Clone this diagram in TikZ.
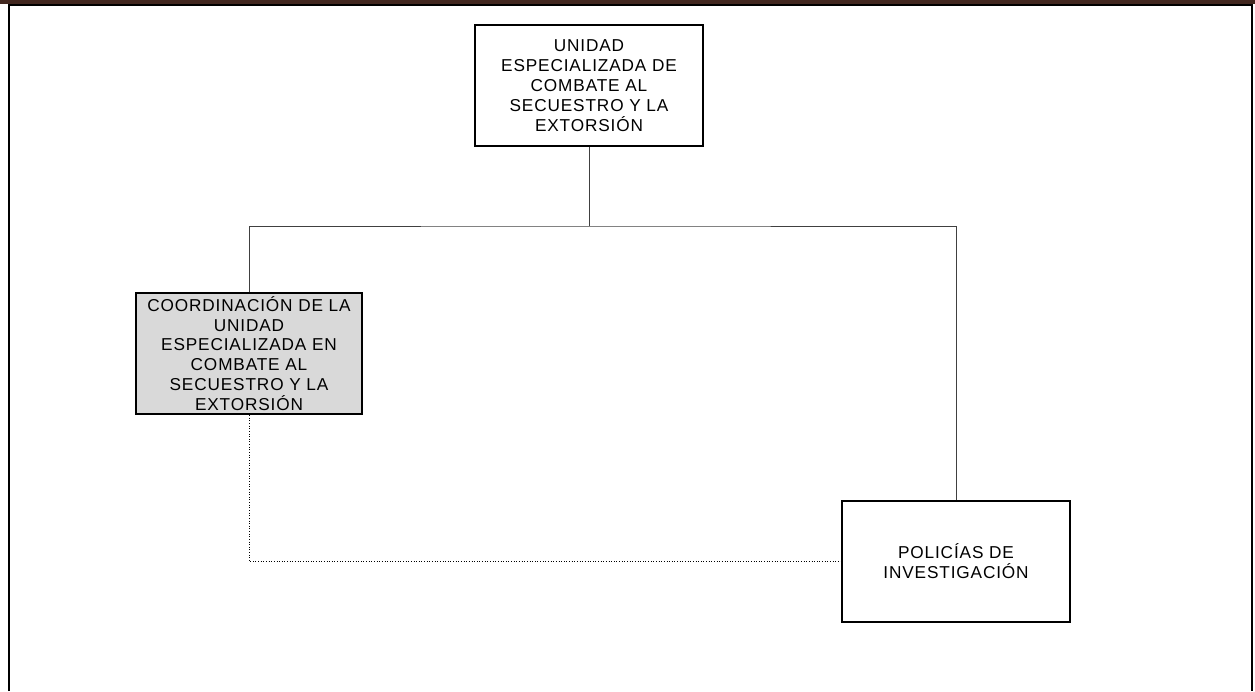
\documentclass[tikz,border=0pt]{standalone}
\usepackage{fontspec}
\usepackage{tikz}
\newfontfamily\orgfont[LetterSpace=5]{Liberation Sans}
\definecolor{barbrown}{HTML}{42271F}
\definecolor{coordgray}{HTML}{D9D9D9}

\begin{document}
\begin{tikzpicture}[x=0.02cm,y=-0.02cm,
    unitbox/.style={draw=black, line width=1pt, minimum width=228*0.02cm,
      minimum height=121*0.02cm, align=center, inner sep=2pt,
      font=\orgfont\fontsize{9.8pt}{11.3pt}\selectfont},
    link/.style={draw=black!75, line width=0.5pt}]
    \useasboundingbox (0,0) rectangle (1255,691);
    \fill[white] (0,0) rectangle (1255,691);
    % marco
    \fill[barbrown] (0,0) rectangle (1255,4);
    \draw[line width=1.2pt] (9,691) -- (9,5) -- (1252,5) -- (1252,691);
    % unidades
    \node[unitbox] (uesce) at (589,85.5) {UNIDAD\\ESPECIALIZADA DE\\COMBATE AL\\SECUESTRO Y LA\\EXTORSIÓN};
    \node[unitbox, fill=coordgray, minimum width=226*0.02cm] (coord) at (249,353.5) {COORDINACIÓN DE LA\\UNIDAD\\ESPECIALIZADA EN\\COMBATE AL\\SECUESTRO Y LA\\EXTORSIÓN};
    \node[unitbox] (pdi) at (956,561.5) {POLICÍAS DE\\INVESTIGACIÓN};
    % lineas
    \coordinate (split) at (589,226);
    \draw[link] (uesce.south) -- (split);
    \draw[link] (coord.north) |- (split) -| (pdi.north);
    \draw[densely dotted, line width=0.5pt] (coord.south) |- (pdi.west);
\end{tikzpicture}
\end{document}
